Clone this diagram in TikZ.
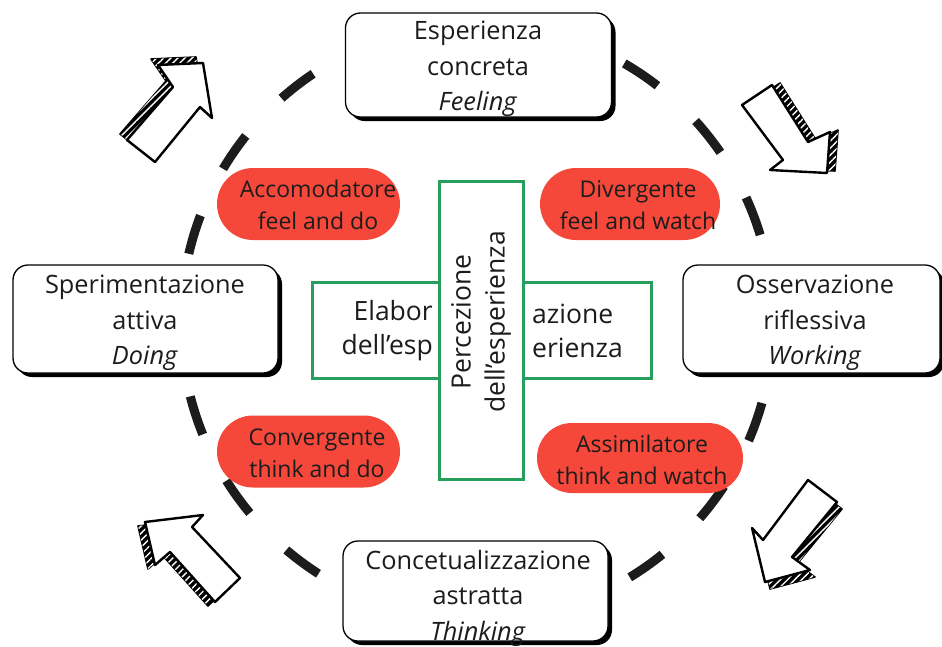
\documentclass[tikz,border=0pt]{standalone}
\usepackage{fontspec}
\setmainfont{Open Sans}
\usetikzlibrary{shadows,patterns.meta}
\definecolor{pillred}{RGB}{245,72,58}
\definecolor{frame}{RGB}{38,158,92}
\definecolor{ink}{RGB}{28,28,28}

\begin{document}
\begin{tikzpicture}[x=1pt,y=-1pt,
  stage/.style={draw=black, line width=1.3pt, fill=white, rounded corners=15pt,
    inner sep=0pt,
    drop shadow={shadow xshift=4pt, shadow yshift=-4pt, fill=black, opacity=1}},
  stagetext/.style={align=center, text=ink, inner sep=0pt,
    font=\fontsize{25.3}{35.5}\selectfont},
  pill/.style={fill=pillred, inner sep=0pt, minimum height=72pt},
  pilltext/.style={align=center, text=ink, inner sep=0pt,
    font=\fontsize{23}{32}\selectfont},
  greenbox/.style={draw=frame, line width=3pt, fill=white, inner sep=0pt},
  greentext/.style={text=ink, font=\fontsize{26.5}{34}\selectfont, inner sep=0pt},
  cycle/.style={draw=ink, line width=9pt, dash pattern=on 40pt off 52pt},
  sketch/.style={draw=black, line width=2.4pt, line join=round, fill=white},
  hatch/.style={draw=black, line width=1.6pt, line join=round, fill=black,
    postaction={pattern={Lines[angle=45,distance=5pt,line width=1.4pt]}, pattern color=white}}
]
\fill[white] (0,0) rectangle (942,646);
\clip (0,0) rectangle (942,646);

% dashed learning cycle
\draw[cycle, dash phase=10pt] (477,322) ellipse [x radius=296, y radius=298];

% sketched arrows: hatched side first, white face on top
% up-right
\draw[hatch, shift={(-7,-6)}] (127,140) -- (173,87) -- (158,65) -- (203,63) -- (212,118) -- (200,107) -- (155,162) -- cycle;
\draw[sketch] (127,140) -- (173,87) -- (158,65) -- (203,63) -- (212,118) -- (200,107) -- (155,162) -- cycle;
% down-right
\draw[hatch, shift={(8,-2)}] (742,105) -- (772,85) -- (808,142) -- (830,132) -- (827,173) -- (770,170) -- (783,160) -- cycle;
\draw[sketch] (742,105) -- (772,85) -- (808,142) -- (830,132) -- (827,173) -- (770,170) -- (783,160) -- cycle;
% up-left
\draw[hatch, shift={(-7,4)}] (145,522) -- (203,515) -- (192,527) -- (240,578) -- (215,602) -- (170,552) -- (155,565) -- cycle;
\draw[sketch] (145,522) -- (203,515) -- (192,527) -- (240,578) -- (215,602) -- (170,552) -- (155,565) -- cycle;
% down-left
\draw[hatch, shift={(5,7)}] (808,480) -- (837,502) -- (792,557) -- (810,570) -- (765,582) -- (752,528) -- (763,540) -- cycle;
\draw[sketch] (808,480) -- (837,502) -- (792,557) -- (810,570) -- (765,582) -- (752,528) -- (763,540) -- cycle;

% the four stages
\node[stage, minimum width=266pt, minimum height=104pt] (feel) at (478.5,65) {};
\node[stagetext] (feelT) at (478,69) {Esperienza\\concreta\\\textit{Feeling}};
\node[stage, minimum width=265pt, minimum height=108pt] (doing) at (145.5,319) {};
\node[stagetext] (doingT) at (145,323) {Sperimentazione\\attiva\\\textit{Doing}};
\node[stage, minimum width=257pt, minimum height=108pt] (watch) at (811.5,319) {};
\node[stagetext] (watchT) at (815,323) {Osservazione\\riflessiva\\\textit{Working}};
\node[stage, minimum width=265pt, minimum height=100pt] (think) at (475.5,591) {};
\node[stagetext] (thinkT) at (478,598) {Concetualizzazione\\astratta\\\textit{Thinking}};

% learning styles
\node[pill, minimum width=183pt, rounded corners=36pt] (acc) at (308.5,204) {};
\node[pilltext] (accT) at (318,205) {Accomodatore\\feel and do};
\node[pill, minimum width=180pt, rounded corners=36pt] (div) at (630,204) {};
\node[pilltext] (divT) at (638,205) {Divergente\\feel and watch};
\node[pill, minimum width=183pt, rounded corners=36pt] (conv) at (308.5,451.5) {};
\node[pilltext] (convT) at (317,453) {Convergente\\think and do};
\node[pill, minimum width=206pt, minimum height=70pt, rounded corners=35pt] (ass) at (640,458) {};
\node[pilltext] (assT) at (642,460) {Assimilatore\\think and watch};

% central axes
\node[greenbox, minimum width=339pt, minimum height=96pt] (hbox) at (481.5,330) {};
\node[greentext, anchor=east, align=right] (elabL) at (433,331) {Elabor\\dell’esp};
\node[greentext, anchor=west, align=left] (elabR) at (532,331) {azione\\erienza};
\node[greenbox, minimum width=84pt, minimum height=298pt] (vbox) at (481,330) {};
\node[greentext, rotate=90, align=center] (perc) at (481,322) {Percezione\\dell’esperienza};
\end{tikzpicture}
\end{document}
